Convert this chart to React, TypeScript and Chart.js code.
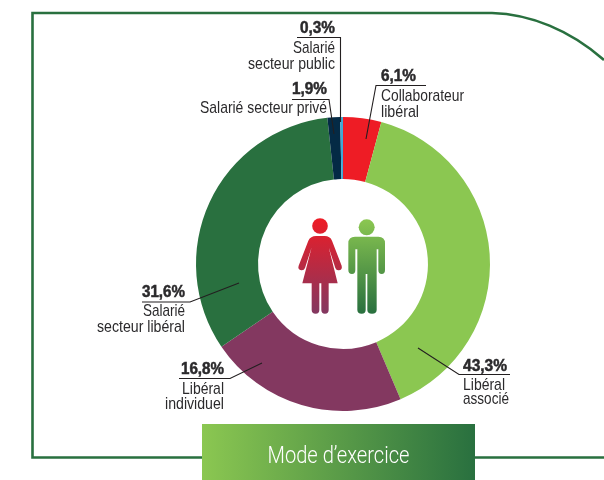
import React, { useEffect, useRef } from "react";
import { Chart, registerables } from "chart.js";

Chart.register(...registerables);

const categories = [
  "Collaborateur libéral",
  "Libéral associé",
  "Libéral individuel",
  "Salarié secteur libéral",
  "Salarié secteur privé",
  "Salarié secteur public",
];
// Percentages as printed on the reference.
const printedLabels = ["6,1%", "43,3%", "16,8%", "31,6%", "1,9%", "0,3%"];
// Slice sizes as measured on the reference, whose drawn arcs are not proportional to the printed figures.
const drawnShares = [4.2, 39.4, 21.9, 32.8, 1.4, 0.3];
const sliceColors = ["#ee1c25", "#8bc751", "#833860", "#29703f", "#042a45", "#3fa9d6"];
const titleText = "Mode d’exercice";

const GREEN = "#29703f";
const LIGHT = "#8bc751";
const INK = "#2b2a2c";
const NARROW = '"Liberation Sans Narrow", "Liberation Sans", sans-serif';

type Callout = {
  index: number;
  pct: [number, number, number];
  align: "left" | "right";
  rule: number[];
  lines: [string, number, number, number][]; // text, x, baseline, width
};

const callouts: Callout[] = [
  {
    index: 5, pct: [335, 33, 35], align: "right",
    rule: [297, 37.5, 340.5, 37.5, 340.5, 122],
    lines: [["Salarié", 335, 53, 42], ["secteur public", 335, 68.5, 87]],
  },
  {
    index: 4, pct: [327, 94, 35], align: "right",
    rule: [292, 99.5, 329, 99.5, 334, 134],
    lines: [["Salarié secteur privé", 327, 113, 127]],
  },
  {
    index: 0, pct: [381, 81, 35], align: "left",
    rule: [426, 85.5, 376, 85.5, 366, 139],
    lines: [["Collaborateur", 381, 100.5, 83], ["libéral", 381, 116.5, 38]],
  },
  {
    index: 3, pct: [185, 297, 43], align: "right",
    rule: [142, 302, 190, 302, 239, 283],
    lines: [["Salarié", 185, 316, 42], ["secteur libéral", 185, 331.5, 88]],
  },
  {
    index: 2, pct: [224, 374, 43], align: "right",
    rule: [179, 378.5, 230, 378.5, 262, 363],
    lines: [["Libéral", 224, 394, 42], ["individuel", 224, 409, 59]],
  },
  {
    index: 1, pct: [463, 371, 44], align: "left",
    rule: [510, 374.5, 459, 374.5, 418, 348],
    lines: [["Libéral", 463, 390, 42], ["associé", 463, 404, 46]],
  },
];

const WOMAN =
  "M108 108L134 108Q150 108 156 122L185 197Q188 210 176 211Q169 212 166 204L146 142L173 250L146 250L146 330Q146 341 135 341Q124 341 124 330L124 250L118 250L118 330Q118 341 107 341Q95 341 95 330L95 250L67 250L95 142L75 204Q72 212 64 211Q52 208 56 197L85 122Q92 108 108 108Z";
const MAN =
  "M225 110L295 110Q315 110 315 130L315 210Q315 222 305 222Q295 222 295 210L295 148L290 148L290 330Q290 341 276 341Q262 341 262 330L262 222L257 222L257 330Q257 341 245 341Q232 341 232 330L232 148L226 148L226 210Q226 222 216 222Q205 222 205 210L205 130Q205 110 225 110Z";

const decor = {
  id: "decor",
  beforeDraw(chart: any) {
    const ctx = chart.ctx as CanvasRenderingContext2D;
    ctx.save();
    ctx.fillStyle = "#fff";
    ctx.fillRect(0, 0, chart.width, chart.height);
    ctx.strokeStyle = GREEN;
    ctx.lineWidth = 2.6;
    ctx.beginPath();
    ctx.moveTo(604, 60);
    ctx.bezierCurveTo(570, 30, 530, 14, 492, 13);
    ctx.lineTo(32.5, 13);
    ctx.lineTo(32.5, 457.5);
    ctx.lineTo(604, 457.5);
    ctx.stroke();
    const g = ctx.createLinearGradient(202, 0, 475, 0);
    g.addColorStop(0, LIGHT);
    g.addColorStop(1, GREEN);
    ctx.fillStyle = g;
    ctx.fillRect(202, 424, 273, 56);
    ctx.fillStyle = "#fff";
    ctx.font = `300 24px Roboto, ${NARROW}`;
    ctx.textAlign = "center";
    ctx.textBaseline = "alphabetic";
    ctx.fillText(titleText, 338.5, 463, 142);
    ctx.restore();
  },
  afterDraw(chart: any) {
    const ctx = chart.ctx as CanvasRenderingContext2D;
    const arc = chart.getDatasetMeta(0).data[0];
    const ox = arc.x - 63;
    const oy = arc.y - 64;
    ctx.save();
    ctx.translate(ox, oy);
    ctx.scale(1 / 3, 1 / 3);
    const wg = ctx.createLinearGradient(0, 55, 0, 341);
    wg.addColorStop(0, "#ee1c25");
    wg.addColorStop(1, "#833860");
    ctx.fillStyle = wg;
    ctx.beginPath();
    ctx.arc(120, 78, 23.5, 0, Math.PI * 2);
    ctx.fill();
    ctx.fill(new Path2D(WOMAN));
    const mg = ctx.createLinearGradient(0, 58, 0, 341);
    mg.addColorStop(0, LIGHT);
    mg.addColorStop(1, GREEN);
    ctx.fillStyle = mg;
    ctx.beginPath();
    ctx.arc(260, 82, 24, 0, Math.PI * 2);
    ctx.fill();
    ctx.fill(new Path2D(MAN));
    ctx.restore();

    ctx.save();
    ctx.textBaseline = "alphabetic";
    for (const c of callouts) {
      ctx.strokeStyle = "#231f20";
      ctx.lineWidth = 1.1;
      ctx.beginPath();
      ctx.moveTo(c.rule[0], c.rule[1]);
      for (let i = 2; i < c.rule.length; i += 2) ctx.lineTo(c.rule[i], c.rule[i + 1]);
      ctx.stroke();
      ctx.fillStyle = INK;
      ctx.strokeStyle = INK;
      ctx.lineWidth = 0.5;
      ctx.textAlign = c.align;
      ctx.font = `700 16px "Liberation Sans", sans-serif`;
      ctx.fillText(printedLabels[c.index], c.pct[0], c.pct[1], c.pct[2]);
      ctx.strokeText(printedLabels[c.index], c.pct[0], c.pct[1], c.pct[2]);
      ctx.font = `400 17px ${NARROW}`;
      for (const [text, x, y, w] of c.lines) ctx.fillText(text, x, y, w);
    }
    ctx.restore();
  },
};

export default function App() {
  const ref = useRef<HTMLCanvasElement>(null);
  useEffect(() => {
    const chart = new Chart(ref.current!, {
      type: "doughnut",
      data: {
        labels: categories,
        datasets: [{ data: drawnShares, backgroundColor: sliceColors, borderWidth: 0 }],
      },
      options: {
        responsive: false,
        animation: false,
        cutout: "57.8%",
        layout: { padding: { left: 196, right: 114, top: 117, bottom: 69 } },
        plugins: { legend: { display: false }, tooltip: { enabled: false } },
      },
      plugins: [decor],
    } as any);
    return () => chart.destroy();
  }, []);
  return (
    <div style={{ position: "fixed", left: 0, top: 0, width: 604, height: 480, background: "#fff" }}>
      <canvas ref={ref} width={604} height={480} style={{ display: "block" }} />
    </div>
  );
}
